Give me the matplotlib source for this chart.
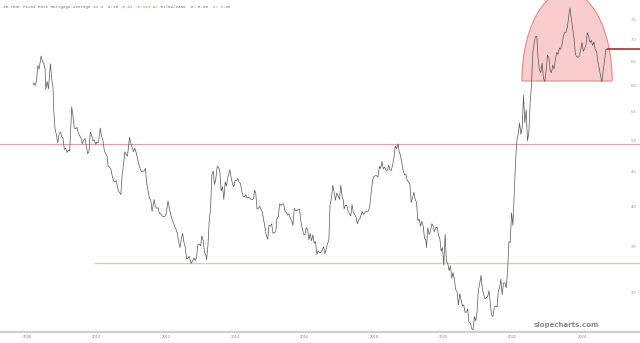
import numpy as np
import pandas as pd
import matplotlib
matplotlib.use("Agg")
import matplotlib.pyplot as plt
import matplotlib.dates as mdates
from matplotlib.patches import Polygon
from matplotlib.ticker import FixedLocator, NullLocator, FormatStrFormatter

# weekly-ish readings of the 30y mortgage rate (%)
dates = [
    "2008-05-01", "2008-05-08", "2008-05-22", "2008-06-05", "2008-06-19", "2008-07-03", "2008-07-24", "2008-08-07",
    "2008-08-21", "2008-09-04", "2008-09-11", "2008-09-25", "2008-10-09", "2008-10-30", "2008-11-13", "2008-11-26",
    "2008-12-04", "2008-12-18", "2008-12-31",
    "2009-01-15", "2009-01-29", "2009-02-12", "2009-02-26", "2009-03-12", "2009-03-26", "2009-04-09", "2009-04-23",
    "2009-05-07", "2009-05-21", "2009-06-04", "2009-06-11", "2009-06-25", "2009-07-09", "2009-07-23", "2009-08-06",
    "2009-08-20", "2009-09-03", "2009-09-17", "2009-10-01", "2009-10-15", "2009-10-29", "2009-11-12", "2009-11-26",
    "2009-12-10", "2009-12-24",
    "2010-01-07", "2010-01-21", "2010-02-04", "2010-02-18", "2010-03-04", "2010-03-18", "2010-04-01", "2010-04-08",
    "2010-04-22", "2010-05-06", "2010-05-20", "2010-06-03", "2010-06-17", "2010-07-01", "2010-07-15", "2010-07-29",
    "2010-08-12", "2010-08-26", "2010-09-09", "2010-09-23", "2010-10-07", "2010-10-21", "2010-11-11", "2010-11-25",
    "2010-12-09", "2010-12-23",
    "2011-01-06", "2011-01-20", "2011-02-10", "2011-02-24", "2011-03-10", "2011-03-24", "2011-04-07", "2011-04-21",
    "2011-05-05", "2011-05-19", "2011-06-02", "2011-06-16", "2011-06-30", "2011-07-14", "2011-07-28", "2011-08-11",
    "2011-08-25", "2011-09-08", "2011-09-22", "2011-10-06", "2011-10-27", "2011-11-10", "2011-11-24", "2011-12-08",
    "2011-12-22",
    "2012-01-05", "2012-01-19", "2012-02-02", "2012-02-16", "2012-03-01", "2012-03-22", "2012-04-05", "2012-04-19",
    "2012-05-03", "2012-05-17", "2012-05-31", "2012-06-14", "2012-06-28", "2012-07-12", "2012-07-26", "2012-08-09",
    "2012-08-23", "2012-09-06", "2012-09-20", "2012-10-04", "2012-10-18", "2012-11-01", "2012-11-21", "2012-12-06",
    "2012-12-20",
    "2013-01-03", "2013-01-17", "2013-01-31", "2013-02-14", "2013-02-28", "2013-03-14", "2013-03-28", "2013-04-11",
    "2013-04-25", "2013-05-02", "2013-05-16", "2013-05-30", "2013-06-13", "2013-06-27", "2013-07-11", "2013-07-25",
    "2013-08-08", "2013-08-22", "2013-09-05", "2013-09-19", "2013-10-03", "2013-10-17", "2013-10-31", "2013-11-14",
    "2013-11-28", "2013-12-12", "2013-12-26",
    "2014-01-02", "2014-01-16", "2014-01-30", "2014-02-13", "2014-02-27", "2014-03-13", "2014-03-27", "2014-04-10",
    "2014-04-24", "2014-05-08", "2014-05-22", "2014-06-05", "2014-06-19", "2014-07-03", "2014-07-17", "2014-07-31",
    "2014-08-14", "2014-08-28", "2014-09-11", "2014-09-18", "2014-10-02", "2014-10-16", "2014-10-30", "2014-11-13",
    "2014-11-26", "2014-12-11", "2014-12-24",
    "2015-01-08", "2015-01-22", "2015-02-05", "2015-02-19", "2015-03-05", "2015-03-19", "2015-04-02", "2015-04-16",
    "2015-04-30", "2015-05-14", "2015-05-28", "2015-06-11", "2015-06-25", "2015-07-09", "2015-07-23", "2015-08-06",
    "2015-08-20", "2015-09-03", "2015-09-17", "2015-10-01", "2015-10-15", "2015-10-29", "2015-11-12", "2015-11-25",
    "2015-12-10", "2015-12-24",
    "2016-01-07", "2016-01-21", "2016-02-04", "2016-02-18", "2016-03-03", "2016-03-17", "2016-03-31", "2016-04-14",
    "2016-04-28", "2016-05-12", "2016-05-26", "2016-06-09", "2016-06-23", "2016-07-07", "2016-07-21", "2016-08-04",
    "2016-08-18", "2016-09-01", "2016-09-15", "2016-09-29", "2016-10-13", "2016-10-27", "2016-11-10", "2016-11-23",
    "2016-12-08", "2016-12-22",
    "2017-01-05", "2017-01-19", "2017-02-02", "2017-02-16", "2017-03-02", "2017-03-16", "2017-03-30", "2017-04-13",
    "2017-04-20", "2017-05-04", "2017-05-18", "2017-06-01", "2017-06-15", "2017-06-29", "2017-07-13", "2017-07-27",
    "2017-08-10", "2017-08-24", "2017-09-07", "2017-09-21", "2017-10-05", "2017-10-26", "2017-11-09", "2017-11-22",
    "2017-12-07", "2017-12-21",
    "2018-01-04", "2018-01-18", "2018-02-01", "2018-02-15", "2018-03-01", "2018-03-15", "2018-03-29", "2018-04-12",
    "2018-04-26", "2018-05-10", "2018-05-24", "2018-06-07", "2018-06-21", "2018-07-05", "2018-07-19", "2018-08-02",
    "2018-08-16", "2018-08-30", "2018-09-13", "2018-09-27", "2018-10-11", "2018-10-25", "2018-11-08", "2018-11-21",
    "2018-12-06", "2018-12-20",
    "2019-01-03", "2019-01-17", "2019-01-31", "2019-02-14", "2019-02-28", "2019-03-14", "2019-03-28", "2019-04-11",
    "2019-04-25", "2019-05-09", "2019-05-23", "2019-06-06", "2019-06-20", "2019-07-03", "2019-07-18", "2019-08-01",
    "2019-08-15", "2019-08-29", "2019-09-05", "2019-09-19", "2019-10-03", "2019-10-17", "2019-10-31", "2019-11-14",
    "2019-11-27", "2019-12-12", "2019-12-26",
    "2020-01-09", "2020-01-23", "2020-02-06", "2020-02-20", "2020-03-05", "2020-03-19", "2020-04-02", "2020-04-16",
    "2020-04-30", "2020-05-14", "2020-05-28", "2020-06-11", "2020-06-25", "2020-07-09", "2020-07-23", "2020-08-06",
    "2020-08-20", "2020-09-03", "2020-09-17", "2020-10-01", "2020-10-15", "2020-10-29", "2020-11-12", "2020-11-25",
    "2020-12-10", "2020-12-24",
    "2021-01-07", "2021-01-21", "2021-02-04", "2021-02-18", "2021-03-04", "2021-03-18", "2021-04-01", "2021-04-15",
    "2021-04-29", "2021-05-13", "2021-05-27", "2021-06-10", "2021-06-24", "2021-07-08", "2021-07-22", "2021-08-05",
    "2021-08-19", "2021-09-02", "2021-09-16", "2021-09-30", "2021-10-14", "2021-10-28", "2021-11-10", "2021-11-24",
    "2021-12-09", "2021-12-23",
    "2022-01-06", "2022-01-20", "2022-02-03", "2022-02-17", "2022-03-03", "2022-03-17", "2022-03-31", "2022-04-14",
    "2022-04-28", "2022-05-12", "2022-05-26", "2022-06-09", "2022-06-23", "2022-07-07", "2022-07-21", "2022-08-04",
    "2022-08-18", "2022-09-01", "2022-09-15", "2022-09-29", "2022-10-13", "2022-10-27", "2022-11-10", "2022-11-23",
    "2022-12-08", "2022-12-22",
    "2023-01-05", "2023-01-19", "2023-02-02", "2023-02-16", "2023-03-02", "2023-03-16", "2023-03-30", "2023-04-13",
    "2023-04-27", "2023-05-11", "2023-05-25", "2023-06-08", "2023-06-22", "2023-07-06", "2023-07-20", "2023-08-03",
    "2023-08-17", "2023-08-31", "2023-09-14", "2023-09-28", "2023-10-12", "2023-10-26", "2023-11-09", "2023-11-22",
    "2023-12-07", "2023-12-21",
    "2024-01-04", "2024-01-18", "2024-02-01", "2024-02-15", "2024-02-29", "2024-03-14", "2024-03-28", "2024-04-11",
    "2024-04-25", "2024-05-09", "2024-05-23", "2024-06-06", "2024-06-20", "2024-07-03", "2024-07-18", "2024-08-01",
    "2024-08-15", "2024-08-29", "2024-09-12", "2024-09-26", "2024-10-10", "2024-10-24", "2024-11-07", "2024-11-14",
]
rates = [
    6.03, 6.06, 6.01, 6.09, 6.42, 6.35, 6.63, 6.52, 6.47, 6.35, 5.93, 6.09, 5.94, 6.46, 6.14, 5.97,
    5.53, 5.19, 5.10,
    4.96, 5.10, 5.14, 5.07, 5.03, 4.85, 4.87, 4.80, 4.84, 4.82, 5.29, 5.59, 5.42, 5.20, 5.20, 5.22,
    5.12, 5.08, 5.04, 4.94, 5.00, 5.03, 4.91, 4.78, 4.81, 5.14,
    5.09, 4.99, 5.01, 4.93, 4.97, 4.96, 5.08, 5.21, 5.07, 5.00, 4.84, 4.78, 4.75, 4.58, 4.57, 4.54,
    4.44, 4.36, 4.35, 4.37, 4.27, 4.21, 4.17, 4.46, 4.61, 4.81,
    4.77, 4.74, 5.05, 4.95, 4.88, 4.81, 4.87, 4.80, 4.71, 4.61, 4.55, 4.50, 4.51, 4.51, 4.55, 4.32,
    4.22, 4.12, 4.09, 3.94, 4.10, 4.00, 3.98, 3.99, 3.91,
    3.91, 3.88, 3.87, 3.87, 3.90, 4.08, 3.98, 3.90, 3.84, 3.79, 3.75, 3.71, 3.66, 3.56, 3.49, 3.59,
    3.66, 3.55, 3.49, 3.36, 3.37, 3.39, 3.31, 3.34, 3.37,
    3.34, 3.38, 3.53, 3.53, 3.51, 3.63, 3.57, 3.43, 3.40, 3.35, 3.51, 3.81, 3.98, 4.46, 4.51, 4.31,
    4.40, 4.58, 4.57, 4.50, 4.22, 4.28, 4.10, 4.35, 4.29, 4.42, 4.48,
    4.53, 4.41, 4.32, 4.28, 4.37, 4.37, 4.40, 4.34, 4.33, 4.21, 4.14, 4.14, 4.17, 4.12, 4.13, 4.12,
    4.10, 4.10, 4.12, 4.23, 4.19, 3.97, 3.98, 4.01, 3.97, 3.93, 3.83,
    3.73, 3.63, 3.59, 3.76, 3.75, 3.78, 3.66, 3.67, 3.68, 3.85, 3.87, 4.04, 4.02, 4.04, 4.04, 3.94,
    3.93, 3.89, 3.91, 3.85, 3.82, 3.76, 3.98, 3.95, 3.95, 3.96,
    3.97, 3.81, 3.72, 3.65, 3.64, 3.73, 3.71, 3.58, 3.66, 3.57, 3.64, 3.54, 3.56, 3.41, 3.45, 3.43,
    3.43, 3.46, 3.50, 3.42, 3.47, 3.54, 3.57, 4.03, 4.13, 4.30,
    4.20, 4.09, 4.19, 4.15, 4.10, 4.30, 4.14, 4.08, 3.97, 4.02, 4.02, 3.94, 3.91, 3.88, 4.03, 3.92,
    3.90, 3.86, 3.78, 3.83, 3.85, 3.94, 3.90, 3.92, 3.94, 3.94,
    3.95, 4.04, 4.22, 4.38, 4.43, 4.44, 4.44, 4.42, 4.58, 4.55, 4.66, 4.54, 4.57, 4.52, 4.52, 4.60,
    4.53, 4.52, 4.60, 4.72, 4.90, 4.86, 4.94, 4.81, 4.75, 4.62,
    4.51, 4.45, 4.46, 4.37, 4.35, 4.31, 4.06, 4.12, 4.20, 4.10, 4.06, 3.82, 3.84, 3.75, 3.81, 3.75,
    3.60, 3.58, 3.49, 3.73, 3.65, 3.69, 3.78, 3.75, 3.68, 3.73, 3.74,
    3.64, 3.60, 3.45, 3.49, 3.29, 3.65, 3.33, 3.31, 3.23, 3.28, 3.15, 3.21, 3.13, 3.03, 3.01, 2.88,
    2.99, 2.93, 2.87, 2.88, 2.81, 2.81, 2.84, 2.72, 2.71, 2.66,
    2.65, 2.77, 2.73, 2.81, 3.02, 3.09, 3.18, 3.04, 2.98, 2.94, 2.95, 2.96, 3.02, 2.90, 2.78, 2.77,
    2.86, 2.87, 2.86, 3.01, 3.05, 3.14, 2.98, 3.10, 3.10, 3.05,
    3.22, 3.56, 3.55, 3.92, 3.76, 4.16, 4.67, 5.00, 5.10, 5.30, 5.10, 5.23, 5.81, 5.30, 5.54, 4.99,
    5.13, 5.66, 6.02, 6.70, 6.92, 7.08, 7.08, 6.58, 6.33, 6.27,
    6.48, 6.15, 6.09, 6.32, 6.65, 6.60, 6.32, 6.27, 6.43, 6.35, 6.57, 6.71, 6.67, 6.81, 6.78, 6.90,
    7.09, 7.18, 7.18, 7.31, 7.57, 7.79, 7.50, 7.29, 7.03, 6.67,
    6.62, 6.60, 6.63, 6.77, 6.94, 6.74, 6.79, 6.88, 7.17, 7.09, 6.94, 6.99, 6.87, 6.95, 6.77, 6.73,
    6.49, 6.35, 6.20, 6.08, 6.32, 6.54, 6.79, 6.78,
]

year_ticks = [2008, 2010, 2012, 2014, 2016, 2018, 2020, 2022, 2024]
rate_ticks = [3.0, 3.5, 4.0, 4.5, 5.0, 5.5, 6.0, 6.5, 7.0, 7.5]
resistance = 4.94   # red line, 2018 high
support = 3.31      # green line, 2012 low

x = pd.to_datetime(dates)

fig = plt.figure(figsize=(6.4, 3.43), dpi=100)
fig.patch.set_facecolor("white")
ax = fig.add_axes([0, 11 / 343, 1, 332 / 343])
ax.set_yscale("log")
ax.set_ylim(2.63, 8.0)
ax.set_xlim(pd.Timestamp("2007-05-18"), pd.Timestamp("2025-11-01"))

# rounded-top highlight over the 2022-2024 range
th = np.linspace(0, np.pi, 120)
cx, base, hw, hh = 0.886, 0.756, 0.0705, 0.27
pts = np.column_stack([cx + hw * np.cos(th), base + hh * np.sin(th)])
ax.add_patch(Polygon(pts, closed=True, transform=ax.transAxes,
                     facecolor="#f9cdcd", edgecolor="#e38888", linewidth=0.8, zorder=1))

ax.axhline(resistance, color="#eea0a0", linewidth=0.8, zorder=2)
ax.axhline(support, xmin=95 / 640, xmax=1, color="#cbd3b4", linewidth=1.0, zorder=2)

ax.plot(x, rates, color="#555555", linewidth=0.5, zorder=3)

# last value marker line
ax.hlines(rates[-1], x[-1], ax.get_xlim()[1], color="#b22a2a", linewidth=1.2, zorder=4)

for s in ["top", "left", "right"]:
    ax.spines[s].set_visible(False)
ax.spines["bottom"].set_color("#cfcfcf")
ax.spines["bottom"].set_linewidth(1.6)

ax.set_xticks([pd.Timestamp(f"{y}-03-01") for y in year_ticks])
ax.xaxis.set_major_formatter(mdates.DateFormatter("%Y"))
ax.tick_params(axis="x", length=0, pad=2, labelsize=2.6, labelcolor="#7b7fa8")

ax.yaxis.tick_right()
ax.yaxis.set_major_locator(FixedLocator(rate_ticks))
ax.yaxis.set_major_formatter(FormatStrFormatter("%.1f"))
ax.yaxis.set_minor_locator(NullLocator())
ax.tick_params(axis="y", length=0, pad=-6.5, labelsize=2.6, labelcolor="#8a8a9a")

# header line
parts = [("30-Year Fixed Rate Mortgage Average in %  6.78 ", "#6e6e6e"),
         ("-0.01 -0.15% ", "#e0704a"),
         ("D: 07/09/2009  O: 5.00  C: 7.66", "#6e6e6e")]
fig.canvas.draw()
rend = fig.canvas.get_renderer()
xpos = 3 / 640
for txt, col in parts:
    t = fig.text(xpos, 1 - 7 / 343, txt, fontsize=3.05, family="Liberation Mono",
                 color=col, va="center", ha="left")
    bb = t.get_window_extent(renderer=rend)
    xpos += bb.width / fig.bbox.width

fig.text(566 / 640, 1 - 325 / 343, "slopecharts.com", fontsize=5, color="#8c8c8c",
         fontweight="bold", ha="center", va="center")

fig.savefig("out.png", dpi=100, facecolor="white")
